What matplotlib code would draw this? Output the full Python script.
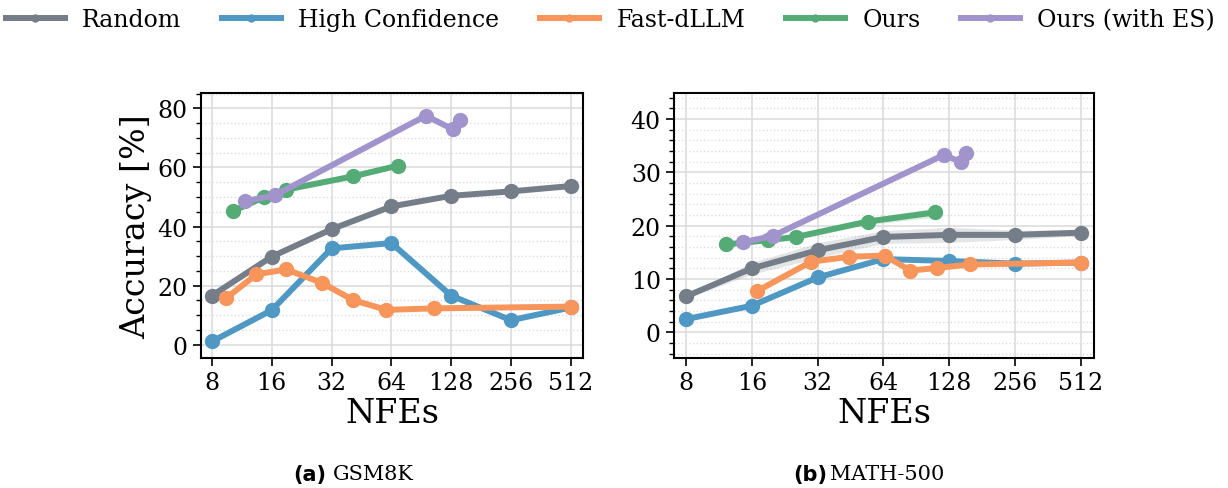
import matplotlib
matplotlib.use("Agg")
import matplotlib.pyplot as plt
import numpy as np
from matplotlib.ticker import FixedLocator, MultipleLocator, NullLocator

plt.rcParams['font.family'] = ['DejaVu Serif']

# ---- data: GSM8K ----
gsm_random_x = [8, 16, 32, 64, 128, 256, 512]
gsm_random_y = [16.6, 29.8, 39.1, 46.8, 50.4, 51.9, 53.7]
gsm_hc_x = [8, 16, 32, 64, 128, 256, 512]
gsm_hc_y = [1.1, 11.7, 32.6, 34.4, 16.6, 8.3, 12.6]
gsm_fast_x = [9.4, 13.4, 18.9, 28.7, 41.1, 60.4, 104.8, 512]
gsm_fast_y = [15.7, 23.8, 25.5, 20.9, 15.1, 11.8, 12.3, 12.9]
gsm_ours_x = [10.2, 14.6, 18.9, 41.1, 69.1]
gsm_ours_y = [45.2, 49.9, 52.5, 57.0, 60.6]
gsm_es_x = [11.8, 16.6, 95.5, 130.5, 142.0]
gsm_es_y = [48.6, 50.6, 77.5, 72.9, 76.1]

# ---- data: MATH-500 ----
math_random_x = [8, 16, 32, 64, 128, 256, 512]
math_random_y = [6.75, 12.0, 15.4, 17.9, 18.3, 18.3, 18.7]
math_hc_x = [8, 16, 32, 64, 128, 256, 512]
math_hc_y = [2.5, 5.0, 10.3, 13.75, 13.4, 12.9, 13.1]
math_fast_x = [16.9, 29.9, 44.8, 64.9, 85.1, 113.1, 160.3, 512]
math_fast_y = [7.75, 13.25, 14.2, 14.4, 11.6, 12.1, 12.75, 13.1]
math_ours_x = [12.2, 18.95, 25.5, 54.4, 110.4]
math_ours_y = [16.5, 17.3, 17.9, 20.8, 22.5]
math_es_x = [14.55, 20.0, 121.4, 145.8, 152.6]
math_es_y = [16.9, 18.1, 33.3, 31.9, 33.6]

# rough std bands (shaded)
gsm_ours_std = [0.5, 0.6, 0.8, 1.0, 0.6]
math_random_std = [0.3, 1.1, 1.4, 1.2, 1.4, 0.9, 0.5]
math_ours_std = [0.4, 0.5, 0.5, 0.6, 0.9]

labels = ['Random', 'High Confidence', 'Fast-dLLM', 'Ours', 'Ours (with ES)']
colors = ['#747d88', '#4f98c4', '#f8955a', '#55ab76', '#a194cc']
xticks = [8, 16, 32, 64, 128, 256, 512]

fig = plt.figure(figsize=(12.28, 4.89), dpi=100)
ax1 = fig.add_axes([0.1637, 0.2658, 0.3111, 0.542])
ax2 = fig.add_axes([0.5489, 0.2658, 0.3420, 0.542])


def draw(ax, series, bands):
    for (x, y), c, lab in zip(series, colors, labels):
        ax.plot(x, y, color=c, lw=4.3, marker='o', ms=10, label=lab, zorder=3)
    for idx, std in bands:
        x, y = series[idx]
        y = np.array(y)
        ax.fill_between(x, y - np.array(std), y + np.array(std),
                        color=colors[idx], alpha=0.2, lw=0, zorder=2)
    ax.set_xscale('log', base=2)
    ax.xaxis.set_major_locator(FixedLocator(xticks))
    ax.xaxis.set_minor_locator(NullLocator())
    ax.set_xticklabels([str(t) for t in xticks])
    ax.set_xlim(7.05, 590)
    ax.set_xlabel('NFEs', fontsize=24, labelpad=2)
    ax.tick_params(axis='both', which='major', labelsize=17, length=6, width=1.2)
    ax.tick_params(axis='y', which='minor', length=3.5, width=1.0)
    ax.grid(True, which='major', color='#dddddd', lw=1.2, zorder=0)
    ax.grid(True, which='minor', axis='y', color='#dddddd', lw=1.0, ls=':', zorder=0)
    ax.set_axisbelow(True)
    for s in ax.spines.values():
        s.set_linewidth(1.5)


draw(ax1, [(gsm_random_x, gsm_random_y), (gsm_hc_x, gsm_hc_y), (gsm_fast_x, gsm_fast_y),
           (gsm_ours_x, gsm_ours_y), (gsm_es_x, gsm_es_y)],
     [(3, gsm_ours_std)])
ax1.set_ylim(-4.5, 85.2)
ax1.yaxis.set_major_locator(MultipleLocator(20))
ax1.yaxis.set_minor_locator(MultipleLocator(5))
ax1.set_ylabel('Accuracy [%]', fontsize=24, labelpad=4)

draw(ax2, [(math_random_x, math_random_y), (math_hc_x, math_hc_y), (math_fast_x, math_fast_y),
           (math_ours_x, math_ours_y), (math_es_x, math_es_y)],
     [(0, math_random_std), (3, math_ours_std)])
ax2.set_ylim(-4.8, 44.9)
ax2.yaxis.set_major_locator(MultipleLocator(10))
ax2.yaxis.set_minor_locator(MultipleLocator(2))

handles, labs = ax1.get_legend_handles_labels()
fig.legend(handles, labs, loc='upper center', bbox_to_anchor=(0.497, 1.025), ncol=5,
           frameon=False, fontsize=17, handlelength=2.5, handletextpad=0.75,
           columnspacing=1.7, markerscale=0.5)

fig.text(0.2386, 0.029, '(a)', fontsize=15, fontweight='bold', family='DejaVu Sans',
         ha='left', va='center')
fig.text(0.271, 0.029, 'GSM8K', fontsize=15, ha='left', va='center')
fig.text(0.6458, 0.029, '(b)', fontsize=15, fontweight='bold', family='DejaVu Sans',
         ha='left', va='center')
fig.text(0.676, 0.029, 'MATH-500', fontsize=15, ha='left', va='center')

fig.savefig('out.png', dpi=100)
